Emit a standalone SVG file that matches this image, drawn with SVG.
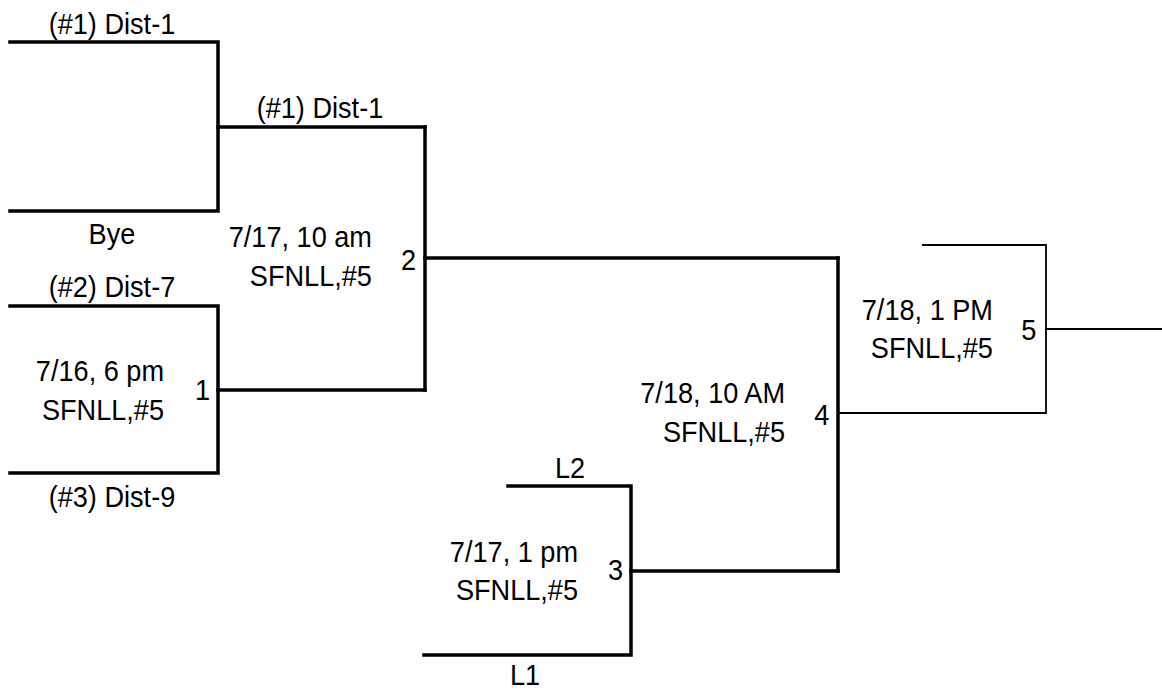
<svg xmlns="http://www.w3.org/2000/svg" width="1162" height="696" viewBox="0 0 1162 696">
<style>
text{font-family:"Liberation Sans",Arial,sans-serif;font-size:29.5px;fill:#000}
.c{text-anchor:middle}
.r{text-anchor:end}
.thick{fill:none;stroke:#000;stroke-width:3.5;stroke-linejoin:miter;stroke-linecap:square}
.thin{fill:none;stroke:#000;stroke-width:1.8;stroke-linecap:square}
</style>
<rect width="1162" height="696" fill="#fff"/>
<g id="connectors">
<polyline class="thick" points="10,42 218,42 218,211 10,211"/>
<line class="thick" x1="218" y1="127" x2="425" y2="127"/>
<polyline class="thick" points="10,306 218,306 218,473 10,473"/>
<line class="thick" x1="218" y1="390" x2="425" y2="390"/>
<polyline class="thick" points="425,127 425,390"/>
<line class="thick" x1="425" y1="258" x2="838" y2="258"/>
<polyline class="thick" points="508,486 631,486 631,655 424,655"/>
<line class="thick" x1="631" y1="571" x2="838" y2="571"/>
<polyline class="thick" points="838,258 838,571"/>
<polyline class="thin" points="923,245 1046,245 1046,413 838,413"/>
<line class="thin" x1="1046" y1="329" x2="1162" y2="329"/>
</g>
<g id="seeds" transform="scale(0.92 1)">
<text class="c" x="121.7" y="34">(#1) Dist-1</text>
<text class="c" x="121.7" y="244">Bye</text>
<text class="c" x="121.7" y="297">(#2) Dist-7</text>
<text class="c" x="121.7" y="507">(#3) Dist-9</text>
<text class="c" x="347.8" y="118">(#1) Dist-1</text>
<text class="c" x="619.6" y="478">L2</text>
<text class="c" x="570.7" y="685">L1</text>
</g>
<g id="game1" transform="scale(0.92 1)">
<text class="r" x="178.3" y="381">7/16, 6 pm</text>
<text class="r" x="178.3" y="420">SFNLL,#5</text>
<text x="212" y="400">1</text>
</g>
<g id="game2" transform="scale(0.92 1)">
<text class="r" x="404.3" y="247">7/17, 10 am</text>
<text class="r" x="404.3" y="286">SFNLL,#5</text>
<text x="436" y="270">2</text>
</g>
<g id="game3" transform="scale(0.92 1)">
<text class="r" x="628.3" y="562">7/17, 1 pm</text>
<text class="r" x="628.3" y="600">SFNLL,#5</text>
<text x="661" y="580">3</text>
</g>
<g id="game4" transform="scale(0.92 1)">
<text class="r" x="853.3" y="403">7/18, 10 AM</text>
<text class="r" x="853.3" y="442">SFNLL,#5</text>
<text x="885" y="425">4</text>
</g>
<g id="game5" transform="scale(0.92 1)">
<text class="r" x="1079.3" y="320">7/18, 1 PM</text>
<text class="r" x="1079.3" y="358">SFNLL,#5</text>
<text x="1110" y="340">5</text>
</g>
</svg>
